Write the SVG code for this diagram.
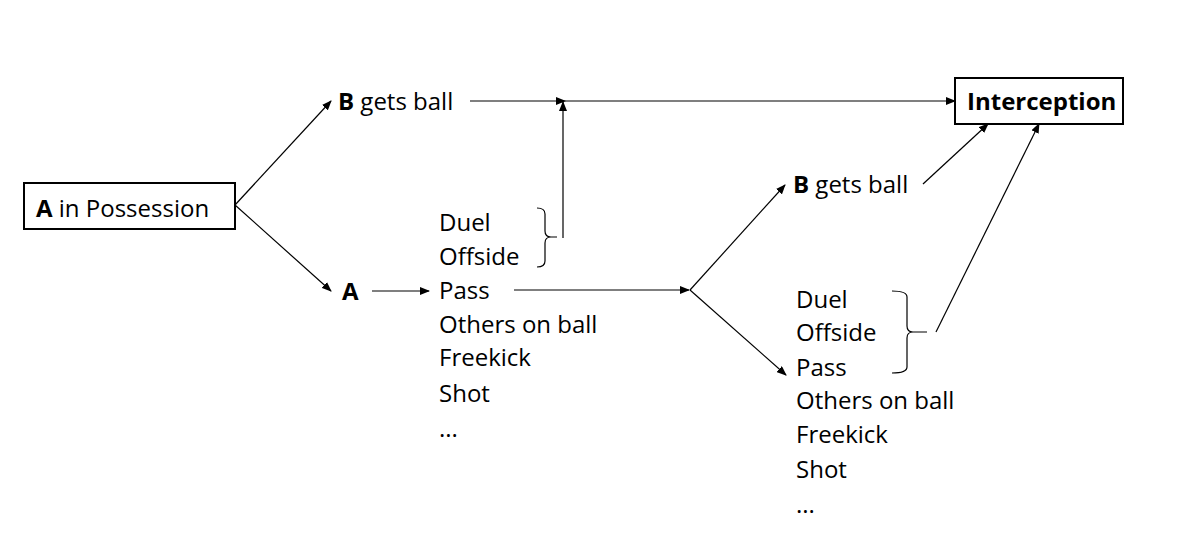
<svg xmlns="http://www.w3.org/2000/svg" width="1186" height="537" viewBox="0 0 1186 537">
<style>
text{font-family:"Open Sans","Liberation Sans",sans-serif;font-size:24px;fill:#000}
.b{font-weight:bold}
.box{fill:#fff;stroke:#000;stroke-width:2}
.c line,.c path{stroke:#000;stroke-width:1.2;fill:none}
.c .a{marker-end:url(#ah)}
</style>
<defs>
<marker id="ah" markerUnits="userSpaceOnUse" markerWidth="10" markerHeight="8" refX="9" refY="4" orient="auto">
<path d="M0,0 L10,4 L0,8 Z" fill="#000"/>
</marker>
</defs>
<rect width="1186" height="537" fill="#fff"/>
<g class="c" id="connectors">
<line class="a" x1="235" y1="205" x2="331" y2="101"/>
<line class="a" x1="235" y1="205" x2="331" y2="291"/>
<line class="a" x1="470" y1="101" x2="565" y2="101"/>
<line class="a" x1="563" y1="238" x2="563" y2="102"/>
<line class="a" x1="565" y1="101" x2="955" y2="101"/>
<line class="a" x1="372" y1="291" x2="429" y2="291"/>
<line class="a" x1="514" y1="290" x2="689" y2="290"/>
<line class="a" x1="690" y1="290" x2="785" y2="185"/>
<line class="a" x1="690" y1="290" x2="786" y2="375"/>
<line class="a" x1="923" y1="184" x2="988" y2="124"/>
<line class="a" x1="936" y1="332" x2="1039" y2="124"/>
<path d="M537,208 Q545,208 545,214 L545,231 Q545,237 551,237 L557,237 M551,237 Q545,237 545,243 L545,261 Q545,267 537,267"/>
<path d="M892,291 Q907,291 907,297 L907,326 Q907,332 913,332 L927,332 M913,332 Q907,332 907,338 L907,367 Q907,373 892,373"/>
</g>
<g id="n-a-possession">
<rect class="box" x="24" y="183" width="211" height="46"/>
<text x="36" y="217"><tspan class="b">A</tspan> in Possession</text>
</g>
<g id="n-b-gets-ball-1">
<text x="338" y="110"><tspan class="b">B</tspan> gets ball</text>
</g>
<g id="n-a">
<text class="b" x="342" y="300">A</text>
</g>
<g id="n-list-1">
<text x="439" y="231">Duel</text>
<text x="439" y="265">Offside</text>
<text x="439" y="299">Pass</text>
<text x="439" y="333">Others on ball</text>
<text x="439" y="366">Freekick</text>
<text x="439" y="402">Shot</text>
<text x="439" y="437">...</text>
</g>
<g id="n-interception">
<rect class="box" x="955" y="78" width="168" height="46"/>
<text class="b" x="967" y="110">Interception</text>
</g>
<g id="n-b-gets-ball-2">
<text x="793" y="193"><tspan class="b">B</tspan> gets ball</text>
</g>
<g id="n-list-2">
<text x="796" y="308">Duel</text>
<text x="796" y="341">Offside</text>
<text x="796" y="376">Pass</text>
<text x="796" y="409">Others on ball</text>
<text x="796" y="443">Freekick</text>
<text x="796" y="478">Shot</text>
<text x="796" y="513">...</text>
</g>
</svg>
